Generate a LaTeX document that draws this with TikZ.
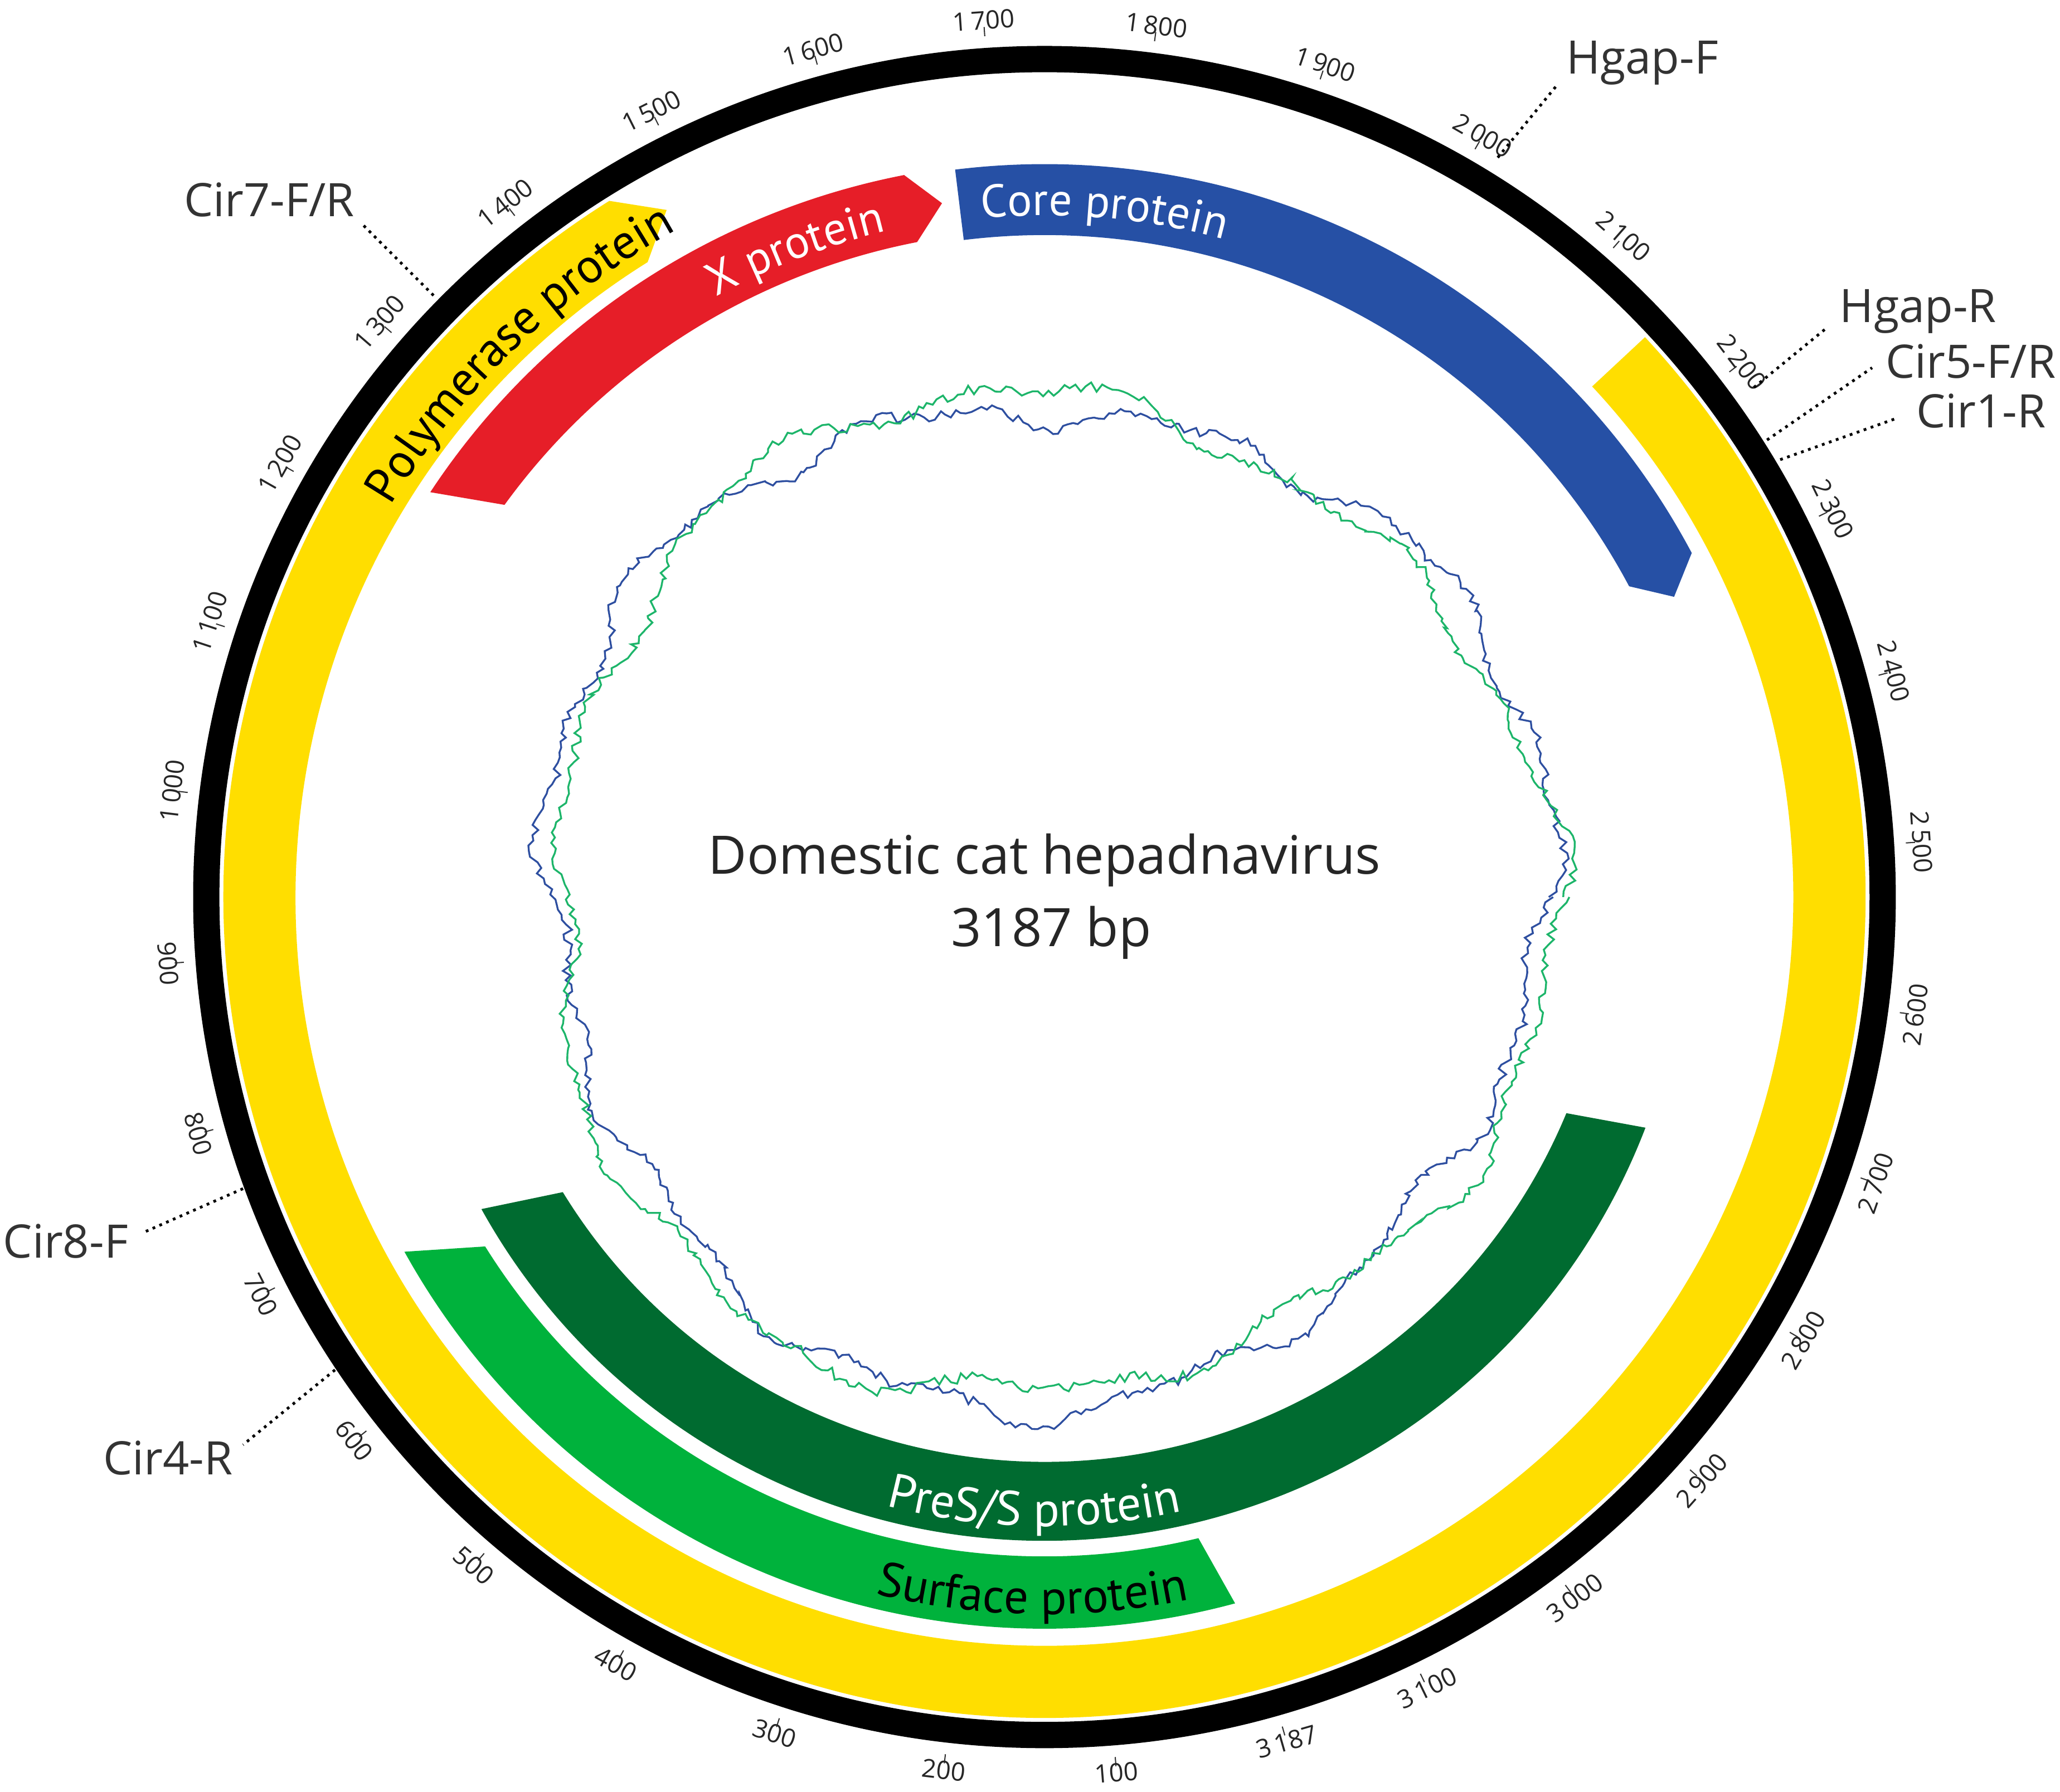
\documentclass[tikz,border=0pt]{standalone}
\usepackage{fontspec}
\setmainfont{Open Sans}
\newfontfamily\genefont{PT Sans}
\usetikzlibrary{decorations.text,decorations.pathmorphing}
\definecolor{cyel}{RGB}{255,222,0}
\definecolor{cred}{RGB}{230,30,40}
\definecolor{cblue}{RGB}{38,80,165}
\definecolor{cdg}{RGB}{0,107,48}
\definecolor{clg}{RGB}{0,178,60}
\definecolor{skb}{RGB}{46,79,160}
\definecolor{skg}{RGB}{29,181,106}
\tikzset{
  primer/.style={dotted,line width=1.2pt,black},
  plabel/.style={font=\fontsize{20}{24}\selectfont,text=black!80},
  ticklab/.style={font=\fontsize{11}{13}\selectfont,text=black!85},
  genetext/.style={decorate,decoration={text along path,text align=center,raise=0pt}}
}
\begin{document}
\begin{tikzpicture}[x=0.02cm,y=0.02cm]
\useasboundingbox (0,0) rectangle (1568,1364);
\begin{scope}[shift={(795,681)}]
% ring
\fill[black,even odd rule] (0,0) circle[radius=648] (0,0) circle[radius=628];
% polymerase
\fill[cyel] (43:625) arc[start angle=43,end angle=-238,radius=625] -- (-241.2:597) -- (-238:570) arc[start angle=-238,end angle=43,radius=570] -- cycle;
% X protein
\fill[cred] (146.6:560) arc[start angle=146.6,end angle=101,radius=560] -- (98.4:534) -- (101:508) arc[start angle=101,end angle=144,radius=508] -- cycle;
% core
\fill[cblue] (97:558) arc[start angle=97,end angle=28,radius=558] -- (25.5:531) -- (28:504) arc[start angle=28,end angle=97,radius=504] -- cycle;
% PreS/S
\fill[cdg] (-21:490) arc[start angle=-21,end angle=-151,radius=490] -- (-148.5:430) arc[start angle=-148.5,end angle=-22.5,radius=430] -- cycle;
% Surface
\fill[clg] (-74.9:557) arc[start angle=-74.9,end angle=-151,radius=557] -- (-148:502) arc[start angle=-148,end angle=-76.5,radius=502] -- cycle;
% gene texts
\path[genetext,decoration={text={|\genefont\fontsize{21}{24}\selectfont|Polymerase protein}}] (162:580) arc[start angle=162,end angle=106,radius=580];
\path[genetext,decoration={text={|\genefont\fontsize{20}{24}\selectfont\color{white}|X protein}}] (127:521) arc[start angle=127,end angle=95,radius=521];
\path[genetext,decoration={text={|\genefont\fontsize{20}{24}\selectfont\color{white}|Core protein}}] (101:519) arc[start angle=101,end angle=69,radius=519];
\path[genetext,decoration={text={|\genefont\fontsize{21}{24}\selectfont\color{white}|PreS/S protein}}] (-118:479) arc[start angle=-118,end angle=-64,radius=479];
\path[genetext,decoration={text={|\genefont\fontsize{21}{24}\selectfont|Surface protein}}] (-116:546) arc[start angle=-116,end angle=-66,radius=546];
% GC skew
\pgfmathsetseed{7}
\draw[skb,line width=0.8pt] plot[domain=0:360,samples=600] (\x:{376+12*sin(3*\x+20)+8*sin(11*\x)+5*sin(23*\x+30)+8*rnd});
\draw[skg,line width=0.8pt] plot[domain=0:360,samples=600] (\x:{376+12*sin(3*\x+110)+8*sin(9*\x+40)+5*sin(19*\x)+8*rnd});
% ticks
\foreach \p/\t in {100/100,200/200,300/300,400/400,500/500,600/600,700/700,800/800,900/900,1000/1\,000,1100/1\,100,1200/1\,200,1300/1\,300,1400/1\,400,1500/1\,500,1600/1\,600,1700/1\,700,1800/1\,800,1900/1\,900,2000/2\,000,2100/2\,100,2200/2\,200,2300/2\,300,2400/2\,400,2500/2\,500,2600/2\,600,2700/2\,700,2800/2\,800,2900/2\,900,3000/3\,000,3100/3\,100,3187/3\,187}{
  \pgfmathsetmacro\a{mod(-74-0.112958*\p+720,360)}
  \pgfmathsetmacro\rot{\a>180 ? \a+90 : \a-90}
  \draw[black!80,line width=0.5pt] (\a:657) -- (\a:664);
  \node[ticklab,rotate=\rot] (t\p) at (\a:669) {\t};
}
\end{scope}
% title
\node[font=\fontsize{23}{28}\selectfont,text=black!85] (title) at (795,709) {Domestic cat hepadnavirus};
\node[font=\fontsize{23}{28}\selectfont,text=black!85] (size) at (800,654) {3187 bp};
% primers
\coordinate (hf1) at (1140,1244); \coordinate (hf2) at (1185,1299);
\node[plabel] (hf) at (1250,1316) {Hgap-F};
\draw[primer] (hf1) -- (hf2);
\coordinate (hr1) at (1335,1069); \coordinate (hr2) at (1390,1114);
\node[plabel] (hr) at (1460,1127) {Hgap-R};
\draw[primer] (hr1) -- (hr2);
\coordinate (c51) at (1345,1029); \coordinate (c52) at (1425,1084);
\node[plabel] (c5) at (1500,1089) {Cir5-F/R};
\draw[primer] (c51) -- (c52);
\coordinate (c11) at (1355,1014); \coordinate (c12) at (1445,1046);
\node[plabel] (c1) at (1508,1051) {Cir1-R};
\draw[primer] (c11) -- (c12);
\coordinate (c71) at (330,1139); \coordinate (c72) at (275,1194);
\node[plabel] (c7) at (205,1212) {Cir7-F/R};
\draw[primer] (c71) -- (c72);
\coordinate (c81) at (185,459); \coordinate (c82) at (110,426);
\node[plabel] (c8) at (50,419) {Cir8-F};
\draw[primer] (c81) -- (c82);
\coordinate (c41) at (255,321); \coordinate (c42) at (185,264);
\node[plabel] (c4) at (128,254) {Cir4-R};
\draw[primer] (c41) -- (c42);
\end{tikzpicture}
\end{document}
